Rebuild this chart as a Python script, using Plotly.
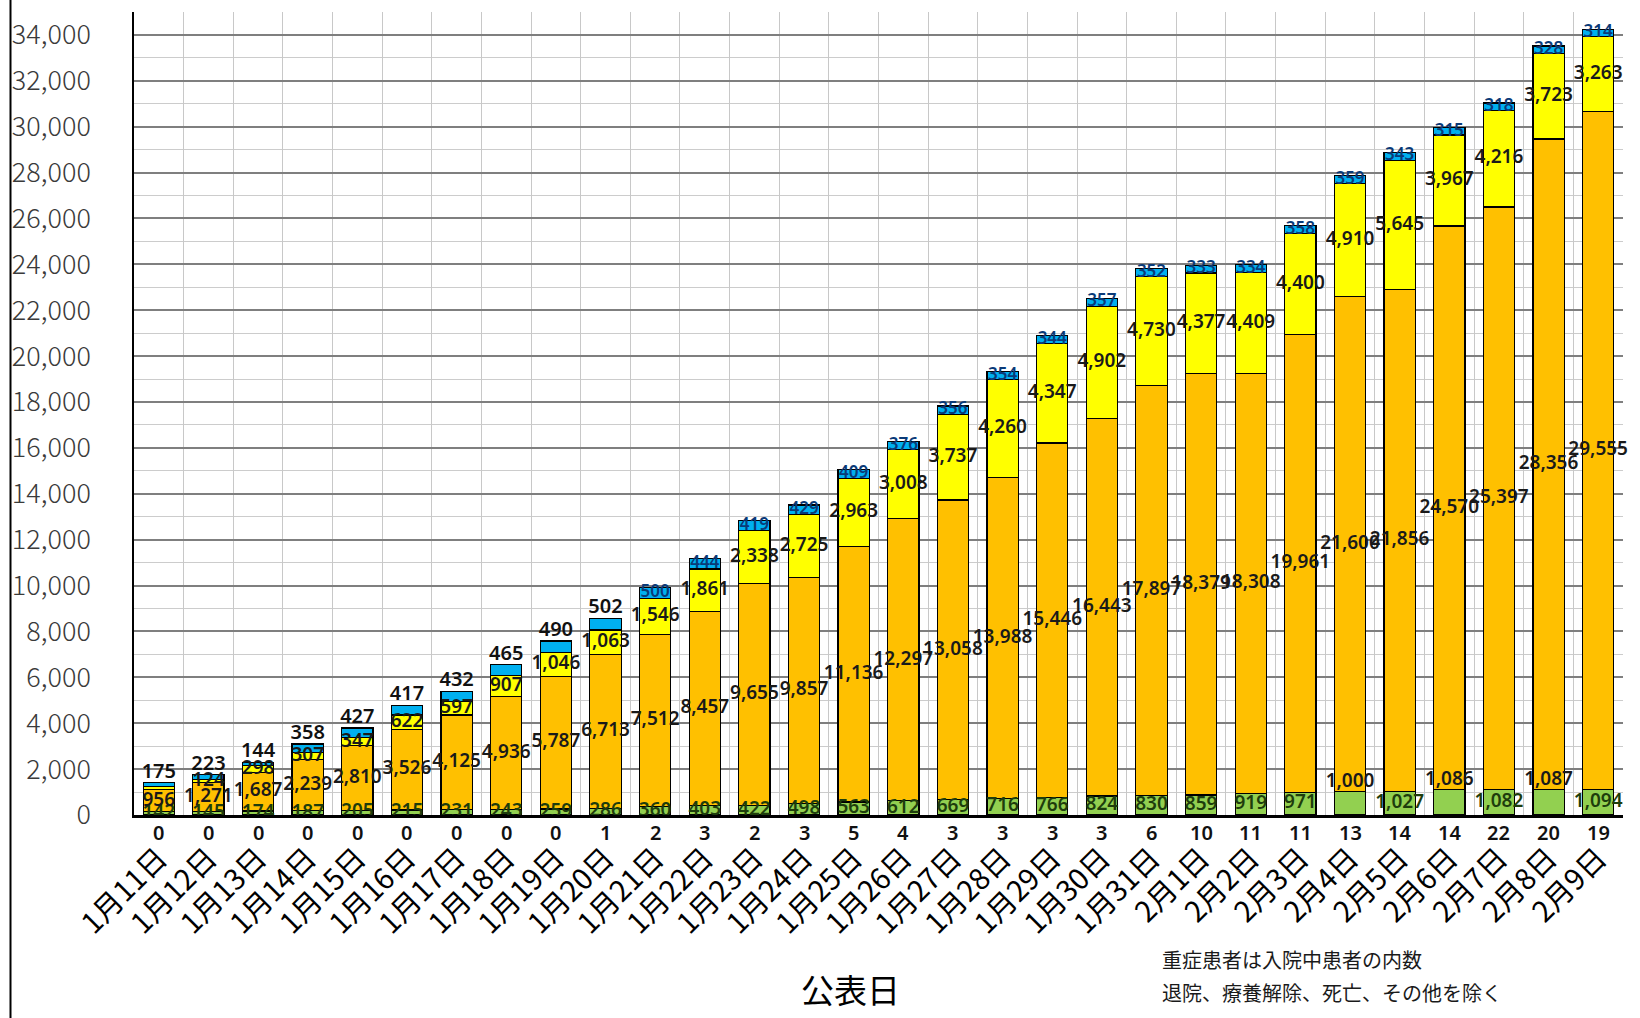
import numpy as np
import plotly.graph_objects as go

dates = ["1月11日", "1月12日", "1月13日", "1月14日", "1月15日", "1月16日", "1月17日",
         "1月18日", "1月19日", "1月20日", "1月21日", "1月22日", "1月23日", "1月24日",
         "1月25日", "1月26日", "1月27日", "1月28日", "1月29日", "1月30日", "1月31日",
         "2月1日", "2月2日", "2月3日", "2月4日", "2月5日", "2月6日", "2月7日", "2月8日", "2月9日"]

s_small = [0, 0, 0, 0, 0, 0, 0, 0, 0, 1, 2, 3, 2, 3, 5, 4, 3, 3, 3, 3, 6, 10, 11, 11, 13, 14, 14, 22, 20, 19]
s_green = [142, 145, 174, 187, 205, 215, 231, 243, 259, 286, 360, 403, 422, 498, 563, 612, 669, 716,
           766, 824, 830, 859, 919, 971, 1000, 1027, 1086, 1082, 1087, 1094]
s_orange = [956, 1271, 1687, 2239, 2810, 3526, 4125, 4936, 5787, 6713, 7512, 8457, 9655, 9857, 11136,
            12297, 13058, 13988, 15446, 16443, 17897, 18379, 18308, 19961, 21600, 21856, 24570, 25397,
            28356, 29555]
s_yellow = [130, 124, 298, 307, 347, 622, 597, 907, 1046, 1063, 1546, 1861, 2338, 2725, 2963, 3008,
            3737, 4260, 4347, 4902, 4730, 4377, 4409, 4400, 4910, 5645, 3967, 4216, 3723, 3263]
s_blue = [175, 223, 144, 358, 427, 417, 432, 465, 490, 502, 500, 444, 419, 429, 409, 376, 356, 354,
          344, 357, 352, 333, 334, 358, 359, 343, 315, 318, 328, 314]

y_ticks = list(range(0, 34001, 2000))
x_title = "公表日"
notes = ["重症患者は入院中患者の内数", "退院、療養解除、死亡、その他を除く"]

series = [
    ("系列1", s_small, "#375623"),
    ("系列2", s_green, "#92D050"),
    ("系列3", s_orange, "#FFC000"),
    ("系列4", s_yellow, "#FFFF00"),
    ("系列5", s_blue, "#00B0F0"),
]

fig = go.Figure()
for name, vals, col in series:
    fig.add_trace(go.Bar(x=dates, y=vals, name=name,
                         marker=dict(color=col, line=dict(color="#000000", width=1.2)),
                         hoverinfo="x+y"))

arr = np.array([s for _, s, _ in series], dtype=float)
top = np.cumsum(arr, axis=0)
base = top - arr
mid = base + arr / 2

lab_font = dict(family="Noto Sans", size=19, weight=600)


def fmt(v):
    return f"{int(v):,}"


def text_trace(xs, ys, texts, pos, color, size=19):
    return go.Scatter(x=xs, y=ys, mode="text", text=texts, textposition=pos,
                      textfont=dict(lab_font, size=size, color=color),
                      cliponaxis=False, showlegend=False, hoverinfo="skip")


# green labels: wide ones alternate between above the segment and inside it
g_in_x, g_in_y, g_in_t, g_up_x, g_up_y, g_up_t = [], [], [], [], [], []
for i, v in enumerate(s_green):
    if v >= 1000 and i % 2 == 0:
        g_up_x.append(dates[i]); g_up_y.append(top[1][i]); g_up_t.append(fmt(v))
    else:
        g_in_x.append(dates[i]); g_in_y.append(mid[1][i]); g_in_t.append(fmt(v))
fig.add_trace(text_trace(g_in_x, g_in_y, g_in_t, "middle center", "#1e3d0c"))
fig.add_trace(text_trace(g_up_x, g_up_y, g_up_t, "top center", "#1a1a1a"))

# orange labels
fig.add_trace(text_trace(dates, mid[2], [fmt(v) for v in s_orange], "middle center", "#1a1a1a"))
# yellow labels (the first bar's yellow label is hidden in the reference)
y_text = [fmt(v) for v in s_yellow]
y_text[0] = ""
fig.add_trace(text_trace(dates, mid[3], y_text, "middle center", "#1a1a1a"))
# blue labels: above bar for the first ten, inside afterwards
n_out = 10
fig.add_trace(text_trace(dates[:n_out], top[4][:n_out], [fmt(v) for v in s_blue[:n_out]],
                         "top center", "#111111", size=20))
fig.add_trace(text_trace(dates[n_out:], mid[4][n_out:], [fmt(v) for v in s_blue[n_out:]],
                         "middle center", "#0a3a78", size=17))

L, R, T, B = 128, 17, 12, 203
W, H = 1640, 1018
pw = W - L - R
ph = H - T - B


def px_x(px):
    return (px - L) / pw


def px_y(py):
    return (H - B - py) / ph


# small series labels below the axis
small_ann = [dict(text=fmt(v), x=d, y=0, xref="x", yref="y", showarrow=False, yanchor="top", yshift=-2,
                  font=dict(family="Noto Sans", size=20, weight=600, color="#111111"))
             for d, v in zip(dates, s_small)]

fig.update_layout(
    width=W, height=H, barmode="stack", bargap=0.37,
    margin=dict(l=L, r=R, t=T, b=B),
    plot_bgcolor="white", paper_bgcolor="white",
    showlegend=False,
    font=dict(family="Noto Sans CJK JP", color="#000000"),
    xaxis=dict(type="category", range=[-0.5, len(dates) - 0.5], tickson="boundaries",
               showgrid=True, gridcolor="#c8c8c8", gridwidth=1,
               showline=True, linecolor="#000000", linewidth=2.5, ticks="", tickangle=-45,
               tickfont=dict(family="Noto Sans CJK JP", size=29, color="#000000"),
               ticklabelstandoff=12),
    yaxis=dict(range=[0, 35000], tickvals=y_ticks, tickformat=",", showgrid=True, gridcolor="#7f7f7f",
               gridwidth=2, showline=True, linecolor="#000000", linewidth=1.5, ticks="",
               tickfont=dict(family="Noto Sans CJK JP", size=27, color="#3a3a3a", weight=300),
               ticklabelstandoff=36, zeroline=False,
               minor=dict(dtick=1000, showgrid=True, gridcolor="#cccccc", gridwidth=1)),
    annotations=small_ann + [
        dict(text=x_title, xref="paper", yref="paper", x=px_x(847), y=px_y(989), showarrow=False,
             font=dict(family="Noto Sans CJK JP", size=33, color="#000000"), xanchor="center", yanchor="middle"),
        dict(text=notes[0], xref="paper", yref="paper", x=px_x(1158), y=px_y(959), showarrow=False,
             font=dict(family="Noto Sans CJK JP", size=20, color="#1a1a1a"), xanchor="left", yanchor="middle"),
        dict(text=notes[1], xref="paper", yref="paper", x=px_x(1158), y=px_y(992), showarrow=False,
             font=dict(family="Noto Sans CJK JP", size=20, color="#1a1a1a"), xanchor="left", yanchor="middle"),
    ],
    shapes=[dict(type="line", xref="paper", yref="paper", x0=px_x(4), x1=px_x(4), y0=px_y(H), y1=px_y(0),
                 line=dict(color="#000000", width=2))],
)

fig.write_html("out.html")
